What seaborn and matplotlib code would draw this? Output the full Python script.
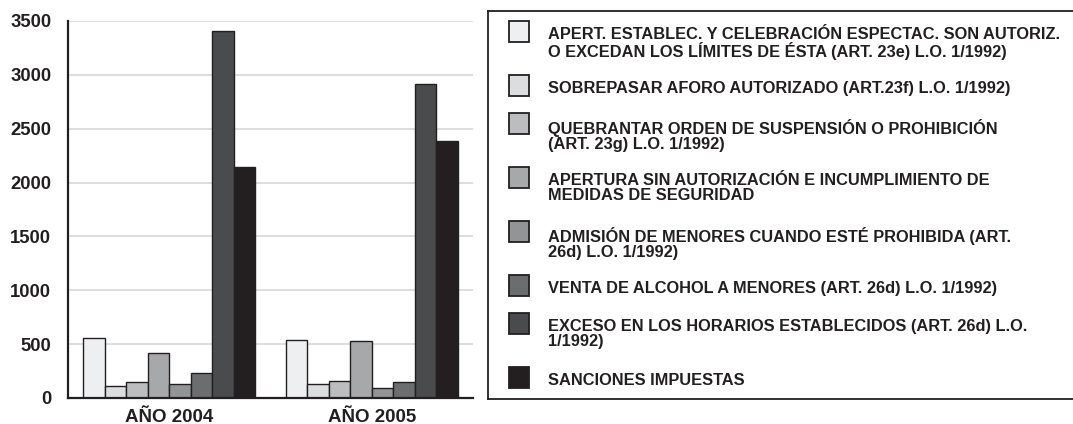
import matplotlib
matplotlib.use("Agg")
import matplotlib.pyplot as plt
import seaborn as sns
import pandas as pd
from matplotlib.patches import Rectangle
from matplotlib.lines import Line2D
from matplotlib.ticker import FixedLocator

# ---------------- data ----------------
categories = ["AÑO 2004", "AÑO 2005"]
series_labels = [
    "APERT. ESTABLEC. Y CELEBRACIÓN ESPECTAC. SON AUTORIZ.\nO EXCEDAN LOS LÍMITES DE ÉSTA (ART. 23e) L.O. 1/1992)",
    "SOBREPASAR AFORO AUTORIZADO (ART.23f) L.O. 1/1992)",
    "QUEBRANTAR ORDEN DE SUSPENSIÓN O PROHIBICIÓN\n(ART. 23g) L.O. 1/1992)",
    "APERTURA SIN AUTORIZACIÓN E INCUMPLIMIENTO DE\nMEDIDAS DE SEGURIDAD",
    "ADMISIÓN DE MENORES CUANDO ESTÉ PROHIBIDA (ART.\n26d) L.O. 1/1992)",
    "VENTA DE ALCOHOL A MENORES (ART. 26d) L.O. 1/1992)",
    "EXCESO EN LOS HORARIOS ESTABLECIDOS (ART. 26d) L.O.\n1/1992)",
    "SANCIONES IMPUESTAS",
]
apert_sin_autoriz = [557, 539]
sobrepasar_aforo = [115, 130]
quebrantar_orden = [152, 162]
apertura_sin_autoriz = [422, 527]
admision_menores = [127, 93]
venta_alcohol = [236, 152]
exceso_horarios = [3410, 2917]
sanciones_impuestas = [2140, 2382]
series_values = [apert_sin_autoriz, sobrepasar_aforo, quebrantar_orden,
                 apertura_sin_autoriz, admision_menores, venta_alcohol,
                 exceso_horarios, sanciones_impuestas]
bar_colors = ["#eeeff0", "#dcdddf", "#bcbdbf", "#a7a8aa",
              "#939496", "#6c6d6f", "#4a4b4d", "#231f20"]
yticks = [0, 500, 1000, 1500, 2000, 2500, 3000, 3500]

# ---------------- style ----------------
sns.set_theme(style="white")
plt.rcParams["font.family"] = ["Liberation Sans", "DejaVu Sans"]
plt.rcParams["font.weight"] = "bold"
INK = "#231f20"

rows = []
for lab, vals in zip(series_labels, series_values):
    for cat, v in zip(categories, vals):
        rows.append({"cat": cat, "serie": lab, "valor": v})
df = pd.DataFrame(rows)

W, H = 1073, 424
fig = plt.figure(figsize=(W / 100, H / 100), dpi=100)
ax = fig.add_axes([68 / W, 26 / H, 405 / W, 377 / H])

sns.barplot(data=df, x="cat", y="valor", hue="serie", order=categories,
            hue_order=series_labels, palette=bar_colors, width=0.85,
            edgecolor=INK, linewidth=1.0, saturation=1, legend=False, ax=ax)

ax.set_xlim(-0.5, 1.5)
ax.set_ylim(0, 3500)
ax.set_yticks(yticks)
ax.set_xlabel("")
ax.set_ylabel("")
ax.set_axisbelow(True)
ax.yaxis.grid(True, color="#dadada", linewidth=1.3)
ax.xaxis.grid(False)
for s in ["top", "right"]:
    ax.spines[s].set_visible(False)
for s in ["left", "bottom"]:
    ax.spines[s].set_color(INK)
    ax.spines[s].set_linewidth(1.6)

ax.tick_params(axis="y", direction="in", length=7, width=1.5, color=INK,
               pad=12, labelsize=13.3, labelcolor=INK)
ax.tick_params(axis="x", which="major", length=0, pad=8, labelsize=13.5,
               labelcolor=INK)
ax.xaxis.set_minor_locator(FixedLocator([0.5, 1.5]))
ax.tick_params(axis="x", which="minor", direction="in", length=7, width=1.5,
               color=INK)
for t in ax.get_xticklabels() + ax.get_yticklabels():
    t.set_fontweight("bold")

# ---------------- legend (manual, figure pixels) ----------------
box_l, box_t, box_b = 488, 11, 399
for xs, ys in [((box_l, W + 5), (box_t, box_t)),
               ((box_l, W + 5), (box_b, box_b)),
               ((box_l, box_l), (box_t, box_b))]:
    fig.add_artist(Line2D([x / W for x in xs], [1 - v / H for v in ys],
                          transform=fig.transFigure, color=INK,
                          linewidth=1.3, solid_capstyle="projecting"))
y = 27.0
for lab, col in zip(series_labels, bar_colors):
    nlines = lab.count("\n") + 1
    fig.add_artist(Rectangle((509 / W, 1 - (y + 15) / H), 20 / W, 21 / H,
                             transform=fig.transFigure, facecolor=col,
                             edgecolor=INK, linewidth=1.3))
    fig.text(548 / W, 1 - y / H, lab, ha="left", va="top", fontsize=11.8,
             fontweight="bold", color=INK, linespacing=0.98)
    y += 16 * nlines + 22

fig.savefig("out.png", dpi=100)
